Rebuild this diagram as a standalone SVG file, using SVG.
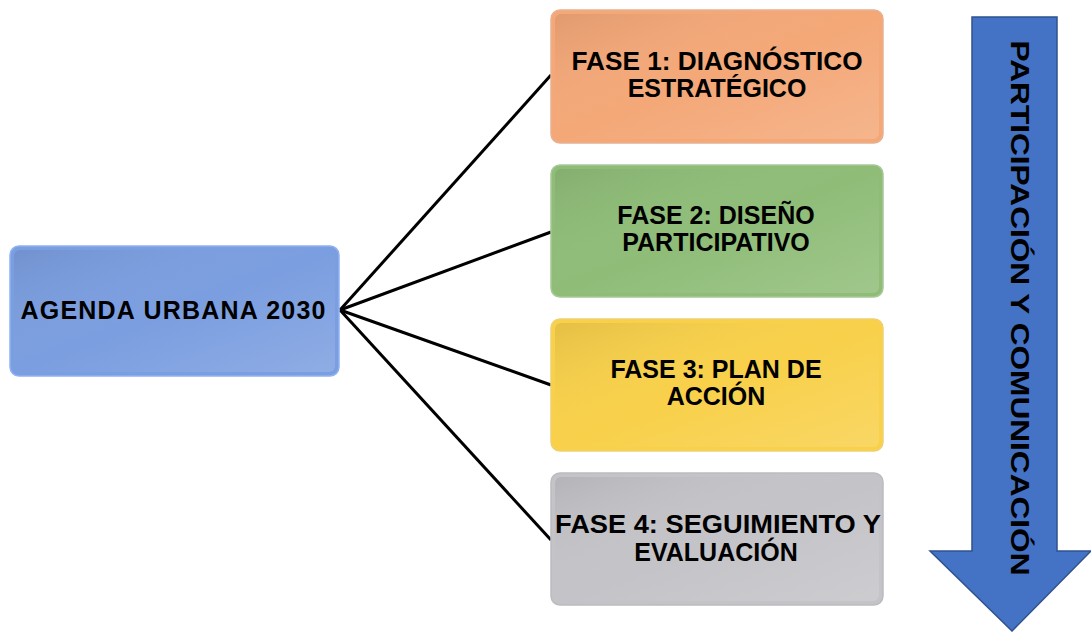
<svg xmlns="http://www.w3.org/2000/svg" width="1091" height="632" viewBox="0 0 1091 632">
<defs>
<style>
.box{stroke-width:1.5}
.lbl{font-family:"Liberation Sans",Arial,sans-serif;font-weight:bold;font-size:25px;fill:#000;text-anchor:middle}
.conn{stroke:#000;stroke-width:3;fill:none}
</style>
<linearGradient id="hl" x1="0" y1="0" x2="1" y2="1">
<stop offset="0" stop-color="#000" stop-opacity="0.08"/>
<stop offset="0.5" stop-color="#fff" stop-opacity="0"/>
<stop offset="1" stop-color="#fff" stop-opacity="0.15"/>
</linearGradient>
</defs>
<rect width="1091" height="632" fill="#fff"/>
<g id="connectors">
<line class="conn" x1="340" y1="310" x2="551" y2="75"/>
<line class="conn" x1="340" y1="310" x2="551" y2="232"/>
<line class="conn" x1="340" y1="310" x2="551" y2="385"/>
<line class="conn" x1="340" y1="310" x2="551" y2="540"/>
</g>
<g id="agenda">
<rect class="box" x="10" y="246" width="329" height="130" rx="9" fill="#7b9ee0" stroke="#8fb2f2"/>
<rect x="14" y="250" width="321" height="122" rx="6" fill="url(#hl)"/>
<text class="lbl" x="173" y="319" font-size="26" textLength="305" lengthAdjust="spacing">AGENDA URBANA 2030</text>
</g>
<g id="fase1">
<rect class="box" x="551" y="10" width="332" height="133" rx="9" fill="#f4a878" stroke="#e8b090"/>
<rect x="555" y="14" width="324" height="125" rx="6" fill="url(#hl)"/>
<text class="lbl" x="717" y="70" textLength="291" lengthAdjust="spacingAndGlyphs">FASE 1: DIAGNÓSTICO</text>
<text class="lbl" x="717" y="97">ESTRATÉGICO</text>
</g>
<g id="fase2">
<rect class="box" x="551" y="165" width="332" height="132" rx="9" fill="#8fbd78" stroke="#a8c898"/>
<rect x="555" y="169" width="324" height="124" rx="6" fill="url(#hl)"/>
<text class="lbl" x="716" y="224">FASE 2: DISEÑO</text>
<text class="lbl" x="716" y="251">PARTICIPATIVO</text>
</g>
<g id="fase3">
<rect class="box" x="551" y="319" width="332" height="132" rx="9" fill="#f8d04a" stroke="#eed070"/>
<rect x="555" y="323" width="324" height="124" rx="6" fill="url(#hl)"/>
<text class="lbl" x="716" y="378">FASE 3: PLAN DE</text>
<text class="lbl" x="716" y="405">ACCIÓN</text>
</g>
<g id="fase4">
<rect class="box" x="551" y="473" width="332" height="132" rx="9" fill="#c4c4c8" stroke="#bcbcc0"/>
<rect x="555" y="477" width="324" height="124" rx="6" fill="url(#hl)"/>
<text class="lbl" x="718" y="533" textLength="326" lengthAdjust="spacingAndGlyphs">FASE 4: SEGUIMIENTO Y</text>
<text class="lbl" x="716" y="561">EVALUACIÓN</text>
</g>
<g id="arrow">
<polygon points="972,17 1057,17 1057,551 1091,551 1012,631 930,551 972,551" fill="#4472c4" stroke="#2f528f" stroke-width="1.5"/>
<text class="lbl" transform="translate(1011,308) rotate(90)" font-size="30" textLength="535" lengthAdjust="spacingAndGlyphs">PARTICIPACIÓN Y COMUNICACIÓN</text>
</g>
</svg>
